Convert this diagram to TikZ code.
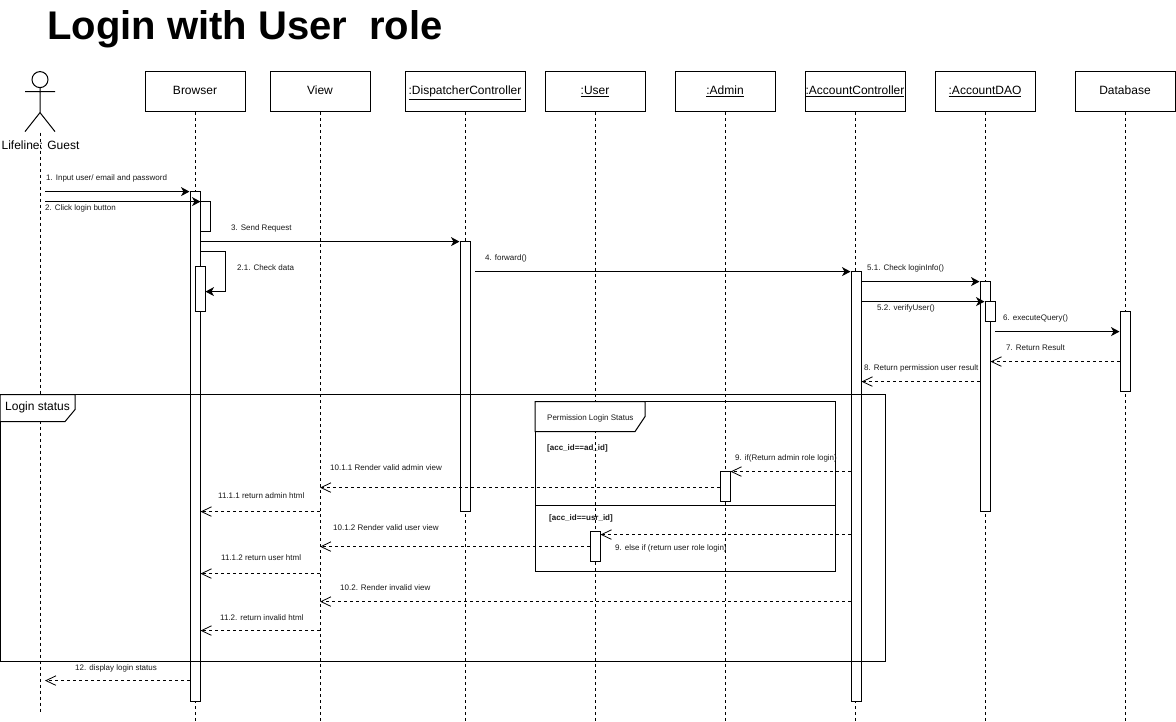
\documentclass[tikz,border=0pt]{standalone}
\usepackage{fontspec}
\setmainfont{Liberation Sans}
\usetikzlibrary{arrows.meta}
\tikzset{
  head/.style={draw,fill=white,line width=1pt,minimum width=100pt,minimum height=40pt,inner sep=0pt,text height=9pt,text depth=2.5pt,font=\fontsize{12}{14}\selectfont},
  life/.style={line width=1pt,dash pattern=on 3pt off 3pt},
  actbox/.style={draw,fill=white,line width=1pt,minimum width=10pt,inner sep=0pt},
  lbl/.style={anchor=west,inner sep=0pt,font=\fontsize{8}{9}\selectfont,text=black!90},
  blbl/.style={lbl,font=\fontsize{8}{9}\selectfont\bfseries},
  syncmsg/.style={line width=1pt,-{Stealth[length=8.5pt,width=9pt,inset=2.5pt]}},
  retmsg/.style={line width=1pt,dash pattern=on 3pt off 3pt,-{Straight Barb[length=10pt,width=9.5pt,line width=.8pt]}},
  plain/.style={line width=1pt},
}
\begin{document}
\begin{tikzpicture}[x=1pt,y=-1pt]
\useasboundingbox (0,-0.6) rectangle (1176,721.4);
\fill[white] (0,-0.6) rectangle (1176,721.4);
\node[anchor=west,inner sep=0pt,font=\fontsize{40}{46}\selectfont\bfseries] (title) at (47,28.5) {Login with User\ \ role};
% actor
\node[draw,circle,line width=1pt,minimum size=16pt,inner sep=0pt] (guestHead) at (40,79) {};
\coordinate (hip) at (40,112);
\coordinate (armL) at (25,91);\coordinate (armR) at (55,91);
\coordinate (legL) at (25,131);\coordinate (legR) at (55,131);
\draw[plain] (guestHead.south) -- (hip) (armL) -- (armR) (legL) -- (hip) -- (legR);
\coordinate (gTop) at (40,132);\coordinate (gEnd) at (40,712);
\draw[life] (gTop) -- (gEnd);
\node[font=\fontsize{12}{14}\selectfont,inner sep=0pt] (guestLabel) at (40.5,145) {Lifeline: Guest};
% heads
\node[head] (hB) at (195,91) {Browser};
\node[head] (hV) at (320,91) {View};
\node[head,minimum width=120pt] (hD) at (465,91) {\underline{:DispatcherController}};
\node[head] (hU) at (595,91) {\underline{:User}};
\node[head] (hA) at (725,91) {\underline{:Admin}};
\node[head] (hC) at (855,91) {\underline{:AccountController}};
\node[head] (hO) at (985,91) {\underline{:AccountDAO}};
\node[head] (hDB) at (1125,91) {Database};
\foreach \n in {hB,hV,hD,hU,hA,hC,hO,hDB}{\draw[life] (\n.south) -- (\n |- 0,722);}
% activations
\node[actbox,minimum height=510pt] (aB) at (195,446) {};
\node[actbox,minimum height=45pt] (aB2) at (200,288.5) {};
\node[actbox,minimum height=270pt] (aD) at (465,376) {};
\node[actbox,minimum height=430pt] (aC) at (856,486) {};
\node[actbox,minimum height=230pt] (aO) at (985,396) {};
\node[actbox,minimum height=20pt] (aO2) at (990,311) {};
\node[actbox,minimum height=80pt] (aDB) at (1125,351) {};
\node[actbox,minimum height=30pt] (aA) at (725,486) {};
\node[actbox,minimum height=30pt] (aU) at (595,546) {};
% outer frame
\draw[plain] (0,394) rectangle (885,661);
\draw[plain,fill=white] (0,394) -- (75,394) -- (75,409) -- (65,421) -- (0,421) -- cycle;
\node[anchor=west,inner sep=0pt,font=\fontsize{12}{14}\selectfont] (fOuter) at (5,407) {Login status};
% inner frame
\draw[plain] (535,401) rectangle (835,571);
\draw[plain] (535,505) -- (835,505);
\draw[plain,fill=white] (535,401) -- (645,401) -- (645,416) -- (635,431) -- (535,431) -- cycle;
\node[lbl] (fInner) at (547,417.5) {Permission Login Status};
\node[blbl] (gAd) at (547,447.5) {[acc\_id==ad\_id]};
\node[blbl] (gUs) at (549,517.5) {[acc\_id==usr\_id]};
% free ends
\coordinate (s1) at (45,191);
\coordinate (s2) at (45,201);
\coordinate (s4) at (475,271);
\coordinate (s6) at (995,331);
\coordinate (e12) at (45,680);
% messages
\draw[syncmsg] (s1) -- (aB.west |- s1);
\draw[syncmsg] (s2) -- (aB.east |- s2);
\draw[plain] (aB.east |- 0,201) -- (210,201) -- (210,231) -- (aB.east |- 0,231);
\draw[syncmsg] (aB.east |- 0,241) -- (aD.west |- 0,241);
\draw[plain] (aB.east |- 0,251) -- (225,251) -- (225,291);
\draw[syncmsg] (225,291) -- (aB2.east |- 0,291);
\draw[syncmsg] (s4) -- (aC.west |- s4);
\draw[syncmsg] (aC.east |- 0,281) -- (aO.west |- 0,281);
\draw[syncmsg] (aC.east |- 0,301) -- (aO2.west |- 0,301);
\draw[syncmsg] (s6) -- (aDB.west |- s6);
\draw[retmsg] (aDB.west |- 0,361) -- (aO.east |- 0,361);
\draw[retmsg] (aO.west |- 0,381) -- (aC.east |- 0,381);
\draw[retmsg] (aC.west |- 0,471) -- (aA.east |- 0,471);
\draw[retmsg] (aA.west |- 0,487) -- (hV |- 0,487);
\draw[retmsg] (hV |- 0,511) -- (aB.east |- 0,511);
\draw[retmsg] (aC.west |- 0,534) -- (aU.east |- 0,534);
\draw[retmsg] (aU.west |- 0,546) -- (hV |- 0,546);
\draw[retmsg] (hV |- 0,573) -- (aB.east |- 0,573);
\draw[retmsg] (aC.west |- 0,601) -- (hV |- 0,601);
\draw[retmsg] (hV |- 0,630) -- (aB.east |- 0,630);
\draw[retmsg] (aB.west |- e12) -- (e12);
% labels
\node[lbl] (m1) at (46,177.5) {1. Input user/ email and password};
\node[lbl] (m2) at (45,207.5) {2. Click login button};
\node[lbl] (m3) at (231,227.5) {3. Send Request};
\node[lbl] (m21) at (237,267.5) {2.1. Check data};
\node[lbl] (m4) at (485,257.5) {4. forward()};
\node[lbl] (m51) at (867,267.5) {5.1. Check loginInfo()};
\node[lbl] (m52) at (877,307.5) {5.2. verifyUser()};
\node[lbl] (m6) at (1003,317.5) {6. executeQuery()};
\node[lbl] (m7) at (1006,347.5) {7. Return Result};
\node[lbl] (m8) at (864,367.5) {8. Return permission user result};
\node[lbl] (m9a) at (735,457.5) {9. if(Return admin role login)};
\node[lbl] (m9b) at (615,547.5) {9. else if (return user role login)};
\node[lbl] (m101) at (330,467.5) {10.1.1 Render valid admin view};
\node[lbl] (m111) at (218,495.5) {11.1.1 return admin html};
\node[lbl] (m102) at (333,527.5) {10.1.2 Render valid user view};
\node[lbl] (m112) at (221,557.5) {11.1.2 return user html};
\node[lbl] (m103) at (340,587.5) {10.2. Render invalid view};
\node[lbl] (m113) at (220,617.5) {11.2. return invalid html};
\node[lbl] (m12) at (75,667.5) {12. display login status};
\end{tikzpicture}
\end{document}
